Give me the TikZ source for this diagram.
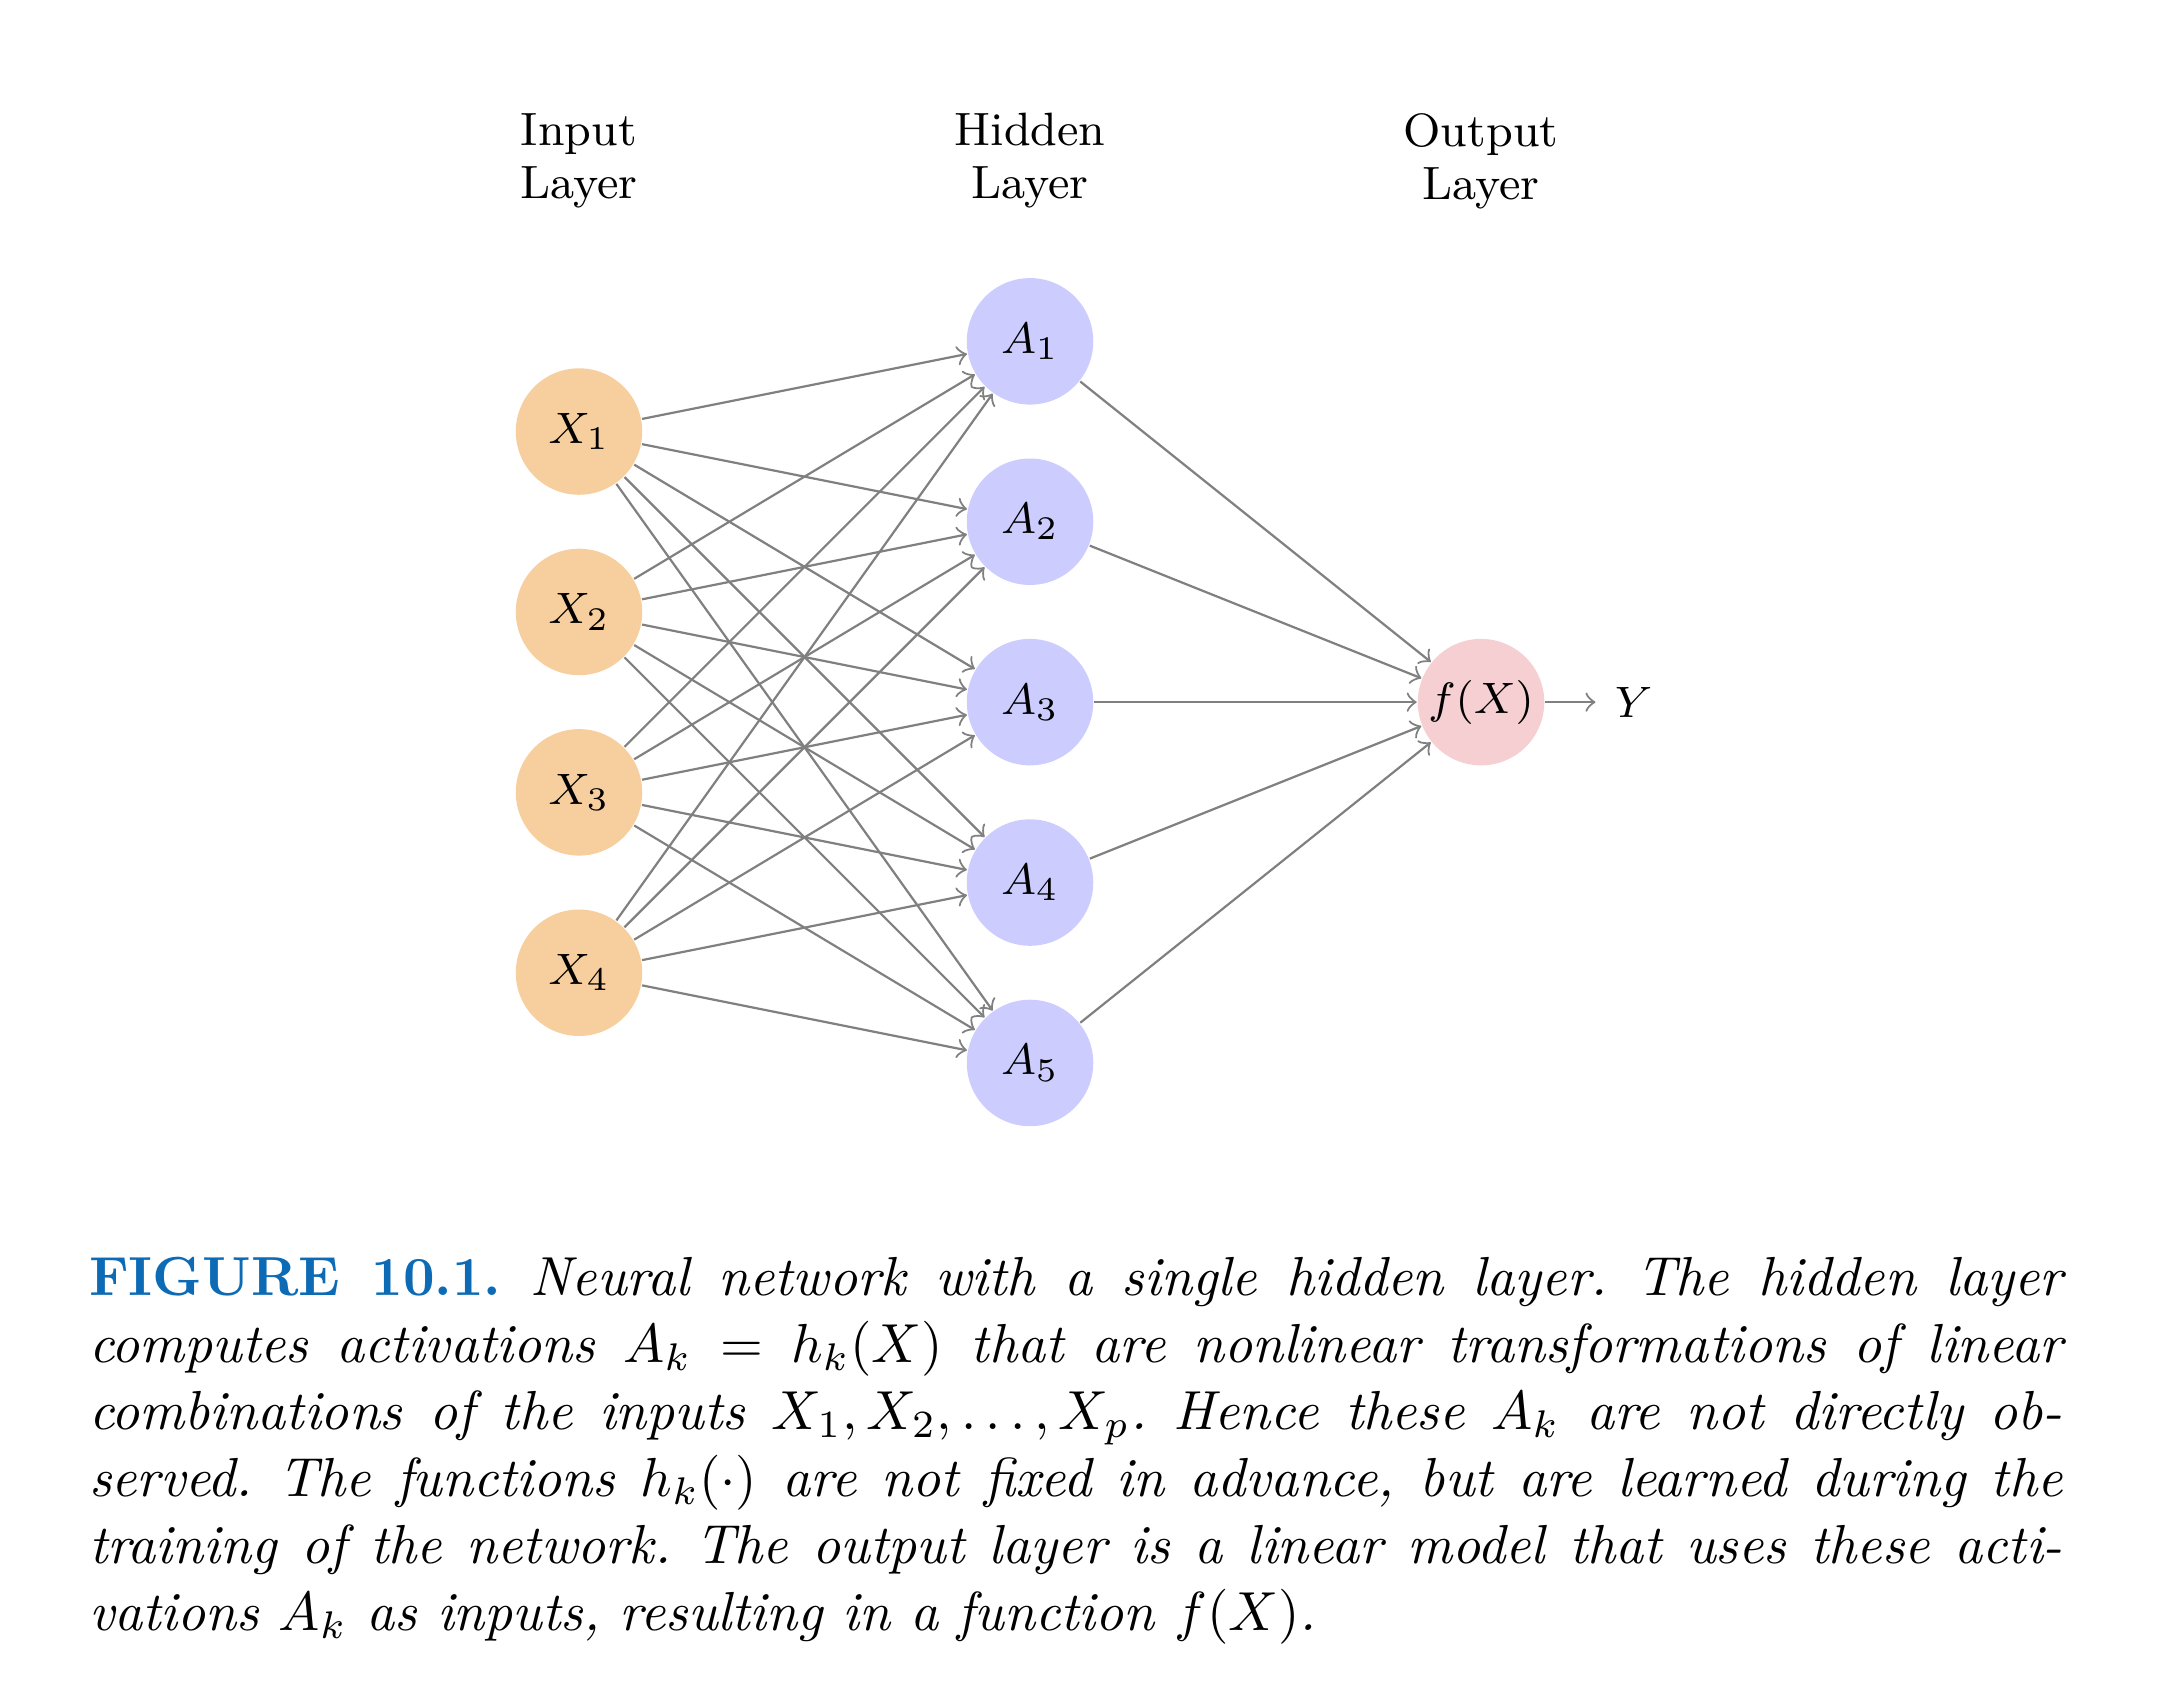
\documentclass[tikz,border=0pt]{standalone}
\usepackage{xcolor}
\usepackage{tikz}
\usetikzlibrary{positioning}
\usetikzlibrary{calc}

\begin{document}
\begin{tikzpicture}
    [%%%%%%%%%%%%%%%%%%%%%%%%%%%%%%
        x=1.153cm, y=1.153cm,
        neuron/.style={circle,draw=none,inner sep=0pt,minimum size=23pt,font=\fontsize{8.5}{9.6}\selectfont},
        inneuron/.style={neuron,fill=inorange},
        hidneuron/.style={neuron,fill=blue!20},
        outneuron/.style={neuron,fill=outpink},
        link/.style={->,gray,line width=0.4pt},
        layerlabel/.style={align=center,font=\fontsize{8.5}{9.6}\selectfont}
    ]%%%%%%%%%%%%%%%%%%%%%%%%%%%%%%
\definecolor{inorange}{rgb}{0.97,0.81,0.62}
\definecolor{outpink}{rgb}{0.96,0.81,0.82}
\definecolor{figblue}{rgb}{0.05,0.42,0.71}
\useasboundingbox (-3.2095,-7.032) rectangle (8.808,2.392);

\foreach \y in {1,...,4}{
    \node[inneuron] (X\y) at (0,1-\y) {$X_\y$};
}
\foreach \y in {1,...,5}{
    \node[hidneuron] (A\y) at (2.5,1.5-\y) {$A_\y$};
}
\node[outneuron] (F) at (5,-1.5) {$f(X)$};
\node[right=0.32cm of F,font=\fontsize{8.5}{9.6}\selectfont] (Y) {$Y$};

\foreach \s in {1,...,4}{
    \foreach \t in {1,...,5}{
        \draw[link] (X\s) -- (A\t);
    }
}
\foreach \t in {1,...,5}{
    \draw[link] (A\t) -- (F);
}
\draw[link] (F) -- (Y);

\node[layerlabel] (inlabel) at (0,1.5) {Input\\Layer};
\node[layerlabel] (hidlabel) at (2.5,1.5) {Hidden\\Layer};
\node[layerlabel] (outlabel) at (5,1.5) {Output\\Layer};

\node[anchor=base west,inner sep=0pt,text width=358.9pt,align=justify,
      font={\fontsize{10}{12.2}\selectfont\itshape\frenchspacing}] (caption) at (-2.722,-4.787)
{{\upshape\bfseries\color{figblue}FIGURE 10.1.} Neural network with a single hidden layer. The hidden layer\linebreak
computes activations $A_k = h_k(X)$ that are nonlinear transformations of linear\linebreak
combinations of the inputs $X_1, X_2, \ldots, X_p$. Hence these $A_k$ are not directly ob-\linebreak
served. The functions $h_k(\cdot)$ are not fixed in advance, but are learned during the\linebreak
training of the network. The output layer is a linear model that uses these acti-\linebreak
vations $A_k$ as inputs, resulting in a function $f(X)$.};

\end{tikzpicture}
\end{document}
